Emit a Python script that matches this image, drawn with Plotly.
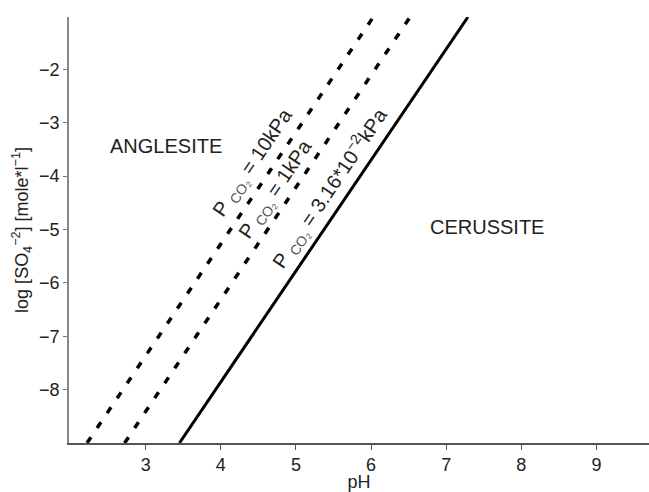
import plotly.graph_objects as go

# Data
log_so4_ends = [-9.0, -1.02]
ph_10kpa = [2.22, 6.03]
ph_1kpa = [2.72, 6.52]
ph_316 = [3.45, 7.29]

x_ticks = [3, 4, 5, 6, 7, 8, 9]
y_ticks = [-8, -7, -6, -5, -4, -3, -2]

region_labels = ["ANGLESITE", "CERUSSITE"]
region_x = [3.27, 7.55]
region_y = [-3.44, -4.95]

SUB = "<sub><span style='color:#555'>CO₂</span></sub>"
line_labels = [
    "P " + SUB + " = 10kPa",
    "P " + SUB + " = 1kPa",
    "P " + SUB + " = 3.16*10<sup>−2</sup>kPa",
]
line_label_x = [4.43, 4.74, 5.46]
line_label_y = [-3.76, -4.25, -4.22]

FONT = "Liberation Sans, Arial, sans-serif"

fig = go.Figure()
fig.add_trace(go.Scatter(x=ph_10kpa, y=log_so4_ends, mode="lines",
                         line=dict(color="black", width=3.5, dash="7px,11px"),
                         showlegend=False, hoverinfo="skip"))
fig.add_trace(go.Scatter(x=ph_1kpa, y=log_so4_ends, mode="lines",
                         line=dict(color="black", width=3.5, dash="7px,11px"),
                         showlegend=False, hoverinfo="skip"))
fig.add_trace(go.Scatter(x=ph_316, y=log_so4_ends, mode="lines",
                         line=dict(color="black", width=3),
                         showlegend=False, hoverinfo="skip"))

for t, x, y in zip(region_labels, region_x, region_y):
    fig.add_annotation(x=x, y=y, text=t, showarrow=False,
                       font=dict(family=FONT, size=20, color="#222"))

for t, x, y in zip(line_labels, line_label_x, line_label_y):
    fig.add_annotation(x=x, y=y, text=t, showarrow=False, textangle=-56,
                       font=dict(family=FONT, size=20, color="#222"))

fig.update_layout(
    width=649, height=492,
    margin=dict(l=69, r=0, t=17, b=49),
    plot_bgcolor="white", paper_bgcolor="white",
    font=dict(family=FONT, size=18, color="#222"),
    xaxis=dict(range=[1.98, 9.7], tickvals=x_ticks, ticks="outside", ticklen=5,
               tickcolor="#555", showline=True, linecolor="#555", linewidth=1.5,
               showgrid=False, zeroline=False,
               tickfont=dict(size=18),
               title=dict(text="pH", font=dict(size=18), standoff=2)),
    yaxis=dict(range=[-9.0, -1.02], tickvals=y_ticks, ticks="outside", ticklen=4,
               tickcolor="#777", showline=True, linecolor="#888", linewidth=1.5,
               showgrid=False, zeroline=False, tickformat="d",
               tickfont=dict(size=18),
               title=dict(text="log [SO<sub>4</sub><sup>−2</sup>] [mole*l<sup>−1</sup>]",
                          font=dict(size=18), standoff=6)),
)

fig.write_html("out.html", config={"displayModeBar": False})

# remove the default page margin so the figure sits at the window's top-left
with open("out.html", "r", encoding="utf-8") as f:
    html = f.read()
html = html.replace("<head>", "<head><style>html,body{margin:0;padding:0;overflow:hidden;}</style>", 1)
with open("out.html", "w", encoding="utf-8") as f:
    f.write(html)
